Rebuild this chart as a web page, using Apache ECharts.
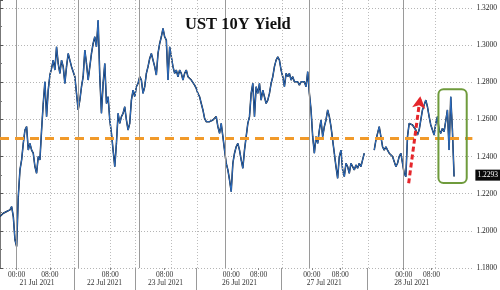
<!DOCTYPE html>
<html><head><meta charset="utf-8">
<script src="https://cdn.jsdelivr.net/npm/echarts@6/dist/echarts.min.js"></script>
<style>html,body{margin:0;padding:0;background:#fff}#c{width:500px;height:290px}</style>
</head><body><div id="c"></div>
<script>
// UST 10Y yield, one value per bar (null = no trading data)
const yieldValues = [
1.2077,1.2086,1.2095,1.2091,1.2104,1.2099,1.2113,1.2131,1.2077,1.1952,
1.1916,1.2185,1.2328,1.2382,1.2471,1.2543,1.2561,1.2435,1.2471,1.2435,
1.2418,1.2346,1.2310,1.2400,1.2382,1.2543,1.2686,1.2803,1.2615,1.2758,
1.2839,1.2875,1.2919,1.2866,1.2991,1.2901,1.2848,1.2919,1.2884,1.2794,
1.2884,1.2955,1.2919,1.2884,1.2875,1.2830,1.2740,1.2651,1.2704,1.2776,
1.2830,1.2973,1.2901,1.2812,1.2884,1.2955,1.3009,1.3045,1.2991,1.3134,
1.2830,1.2633,1.2794,1.2901,1.2686,1.2722,1.2597,1.2525,1.2435,1.2346,
1.2471,1.2633,1.2579,1.2615,1.2633,1.2668,1.2597,1.2543,1.2579,1.2704,
1.2758,1.2722,1.2776,1.2794,1.2830,1.2812,1.2740,1.2776,1.2848,1.2884,
1.2928,1.2955,1.2919,1.2884,1.2839,1.2955,1.3009,
1.3045,1.3090,1.3045,1.3027,1.2812,1.2991,1.2991,1.2884,1.2848,1.2866,
1.2830,1.2866,1.2848,1.2812,1.2848,1.2866,1.2830,1.2821,1.2812,1.2803,
1.2785,1.2767,1.2740,1.2722,1.2686,1.2651,1.2606,1.2588,1.2579,1.2588,
1.2579,1.2597,1.2606,1.2615,1.2561,1.2525,1.2579,1.2507,1.2435,1.2364,
1.2328,1.2274,1.2211,1.2364,1.2418,1.2453,1.2471,1.2435,1.2382,1.2337,
1.2435,1.2507,1.2579,1.2615,1.2740,1.2794,1.2615,1.2776,1.2740,1.2794,
1.2704,1.2758,1.2722,1.2686,1.2704,1.2740,1.2794,1.2830,1.2884,1.2919,
1.2937,1.2919,1.2866,1.2830,1.2776,1.2848,1.2830,1.2848,1.2812,1.2830,
1.2803,1.2794,1.2803,1.2785,1.2803,1.2794,1.2803,1.2776,1.2857,1.2740,
1.2651,1.2507,1.2418,
1.2507,1.2471,1.2543,1.2597,1.2507,1.2561,1.2597,1.2651,1.2615,1.2561,
1.2489,1.2418,1.2346,1.2283,1.2400,1.2435,1.2328,1.2292,1.2364,1.2346,
1.2310,1.2364,1.2346,1.2328,1.2355,1.2337,1.2364,1.2346,1.2382,1.2418,
null,null,null,null,null,
1.2435,1.2489,1.2525,1.2561,1.2507,1.2453,1.2435,1.2453,1.2435,1.2418,
1.2427,1.2400,1.2373,1.2346,1.2364,1.2400,1.2418,1.2364,1.2310,1.2292,
1.2507,1.2579,1.2588,1.2570,1.2561,1.2543,1.2516,1.2543,1.2597,1.2651,
1.2677,1.2704,1.2668,1.2615,1.2570,1.2543,1.2516,1.2579,1.2615,1.2543,
1.2525,1.2552,1.2534,1.2543,1.2651,1.2435,1.2722,1.2543,1.2293
];
const barCountAxis = 284;           // axis spans bars 0..284
const lastValue = 1.2293;
const refLevel = 1.2505;
const yMin = 1.18, yStep = 0.02, yTop = 1.3243;
const timeTickPos  = [10.0, 30.0, 66.3, 99.0, 139.0, 155.5, 187.5, 204.6, 242.7, 259.4];
const timeTickText = ['00:00','08:00','08:00','08:00','00:00','08:00','00:00','08:00','00:00','08:00'];
const dateLabelPos  = [22.2, 62.9, 99.5, 144.0, 195.0, 247.5];
const dateLabelText = ['21 Jul 2021','22 Jul 2021','23 Jul 2021','26 Jul 2021','27 Jul 2021','28 Jul 2021'];
const daySeparators = [44.9, 81.5, 118.0, 169.0, 220.5];
const midnightLines = [10.0, 46.9, 83.9, 135.4, 185.7, 242.7];
const hourLines = [30.0, 44.9, 66.5, 81.5, 102.9, 118.6, 169.6, 205.5, 221.1, 261.8];
const arrowFrom = [245.7, 1.2256];
const arrowTo = [252.7, 1.2725];
const boxRange = [263.6, 280.6, 1.2762, 1.2257];

const seriesData = yieldValues.map((v, i) => [i, v]);
const FONT = 'Liberation Serif';
const nearest = (arr, v) => { let k = 0, d = 1e9; arr.forEach((p, i) => { if (Math.abs(p - v) < d) { d = Math.abs(p - v); k = i; } }); return k; };

const chart = echarts.init(document.getElementById('c'), null, {renderer: 'canvas'});
chart.setOption({
  animation: false,
  backgroundColor: '#fff',
  title: {
    text: 'UST 10Y Yield', left: 185, top: 16, padding: 0,
    textStyle: {fontFamily: FONT, fontWeight: 'bold', fontSize: 16.5, color: '#111'}
  },
  grid: {left: 0, right: 26, top: 0, bottom: 22, containLabel: false},
  xAxis: [{
    type: 'value', min: 0, max: barCountAxis, position: 'bottom',
    axisLine: {show: false},
    axisTick: {show: true, customValues: timeTickPos, length: 2, lineStyle: {color: '#888'}},
    splitLine: {show: false},
    axisLabel: {
      customValues: timeTickPos, margin: 3, fontSize: 7.5, fontFamily: FONT, color: '#333',
      formatter: v => timeTickText[nearest(timeTickPos, v)]
    }
  }, {
    type: 'value', min: 0, max: barCountAxis, position: 'bottom', offset: 0,
    axisLine: {show: false},
    axisTick: {show: true, customValues: daySeparators, length: 22, lineStyle: {color: '#999'}},
    splitLine: {show: false},
    axisLabel: {
      customValues: dateLabelPos, margin: 11, fontSize: 7.5, fontFamily: FONT, color: '#333',
      formatter: v => dateLabelText[nearest(dateLabelPos, v)]
    }
  }],
  yAxis: {
    type: 'value', position: 'right', min: yMin, max: yTop, interval: yStep,
    axisLine: {show: true, lineStyle: {color: '#777'}},
    axisTick: {show: true, length: 3, lineStyle: {color: '#555'}},
    minorTick: {show: true, splitNumber: 2, length: 2, lineStyle: {color: '#777'}},
    splitLine: {show: true, showMaxLine: false, lineStyle: {color: '#b5b5b5', type: [1, 2]}},
    axisLabel: {margin: 4, fontSize: 7.5, fontFamily: FONT, color: '#222', showMaxLabel: false,
      formatter: v => v.toFixed(4)}
  },
  series: [
    {
      type: 'line', data: [], silent: true, z: 1,
      markLine: {
        silent: true, symbol: ['none', 'none'], animation: false, label: {show: false},
        data: midnightLines.map(x => ({xAxis: x, lineStyle: {color: '#9a9a9a', width: 1, type: 'solid'}}))
          .concat(hourLines.map(x => ({xAxis: x, lineStyle: {color: '#bdbdbd', width: 1, type: [1, 2]}})))
      }
    },
    {
      type: 'line', data: seriesData, showSymbol: false, symbol: 'none', connectNulls: false, z: 3,
      lineStyle: {color: '#0c1420', width: 1.5}
    },
    {
      type: 'line', data: seriesData, showSymbol: false, symbol: 'none', connectNulls: false, z: 4,
      lineStyle: {color: '#2f70c4', width: 1.0}
    },
    {
      type: 'line', data: [], silent: true, z: 6,
      markLine: {
        silent: true, animation: false, symbol: ['none', 'none'],
        data: [
          {yAxis: refLevel, label: {show: false},
            lineStyle: {color: '#f19a2a', width: 3, type: [9, 6]}},
          {yAxis: lastValue, lineStyle: {color: 'rgba(0,0,0,0)', width: 0},
            label: {show: true, position: 'end', distance: 3, formatter: () => lastValue.toFixed(4),
              backgroundColor: '#0a0a0a', color: '#fff', padding: [2, 2, 1, 2], fontSize: 7.5, fontFamily: FONT}}
        ],
        label: {show: false}
      }
    },
    {
      type: 'line', data: [], silent: true, z: 6,
      markLine: {
        silent: true, animation: false, symbol: ['none', 'arrow'], symbolSize: [10, 12],
        data: [[{coord: arrowFrom}, {coord: arrowTo}]],
        lineStyle: {color: '#e5262b', width: 3, type: [5, 3]},
        label: {show: false}
      }
    },
    {
      type: 'custom', z: 7, silent: true, clip: false,
      data: [boxRange],
      renderItem: (params, api) => {
        const p1 = api.coord([api.value(0), api.value(2)]);
        const p2 = api.coord([api.value(1), api.value(3)]);
        return {type: 'rect', shape: {x: p1[0], y: p1[1], width: p2[0] - p1[0], height: p2[1] - p1[1], r: 5},
          style: {fill: 'none', stroke: '#6f9b3c', lineWidth: 2}};
      }
    }
  ]
});
</script></body></html>
